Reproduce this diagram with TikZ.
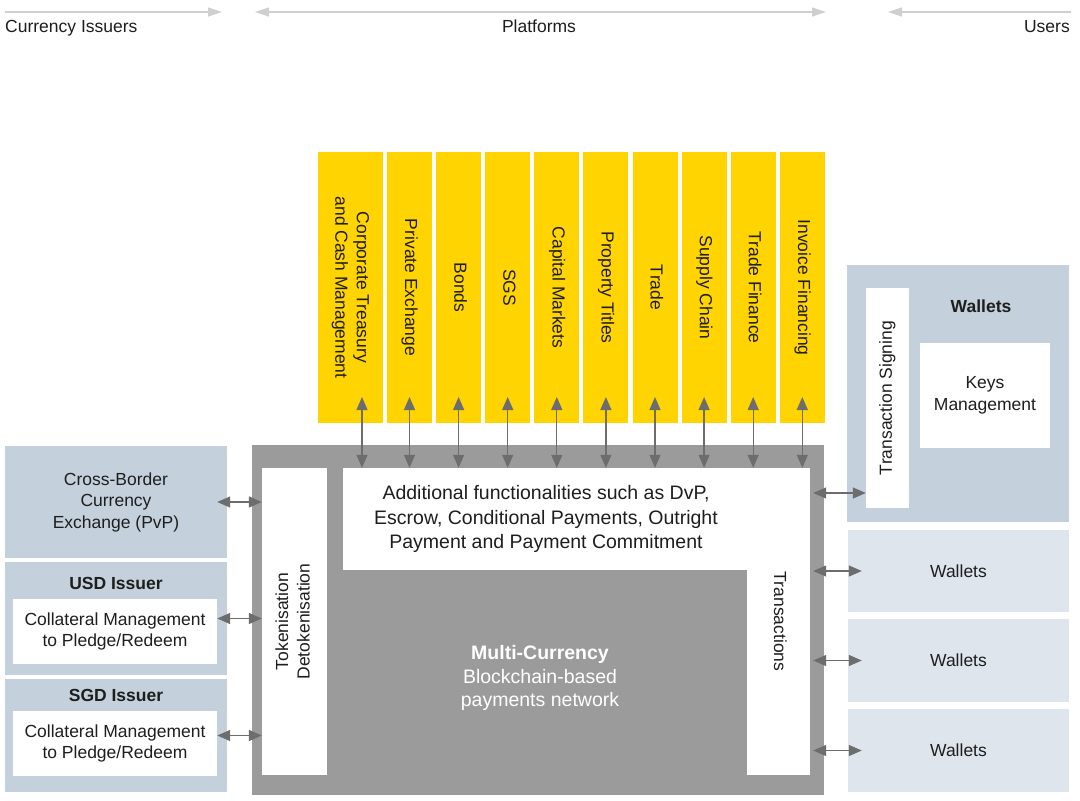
\documentclass[tikz,border=0pt]{standalone}
\usepackage{fontspec}
\setmainfont{Liberation Sans}
\usetikzlibrary{arrows.meta}

\definecolor{gold}{HTML}{FFD400}
\definecolor{steel}{HTML}{C4D1DC}
\definecolor{mist}{HTML}{DFE5EC}
\definecolor{netgray}{HTML}{9B9B9B}
\definecolor{linkgray}{HTML}{6D6D6D}
\definecolor{headgray}{HTML}{CFCFCF}
\definecolor{ink}{HTML}{1E1E1E}

\newcommand{\rotup}[1]{\rotatebox{90}{\begin{tabular}{@{}c@{}}#1\end{tabular}}}
\newcommand{\rotdown}[1]{\rotatebox{-90}{\begin{tabular}{@{}c@{}}#1\end{tabular}}}

\begin{document}
\begin{tikzpicture}[
    x=1pt, y=-1pt,
    font=\fontsize{17.5}{21.5}\selectfont,
    box/.style={rectangle, inner sep=0pt, align=center, text=ink},
    plat/.style={box, fill=gold, minimum width=45pt, minimum height=271pt},
    issuer/.style={box, fill=steel, minimum width=222pt, minimum height=113pt},
    whitebox/.style={box, fill=white, minimum width=204pt, minimum height=65pt},
    wallet/.style={box, fill=mist, minimum width=221pt, minimum height=82.5pt},
    dlink/.style={{Triangle[length=13pt,width=11pt]}-{Triangle[length=13pt,width=11pt]}, draw=linkgray, line width=1.3pt},
    topline/.style={draw=headgray, line width=1.2pt}
]
\useasboundingbox (0,0) rectangle (1080,801);
\fill[white] (0,0) rectangle (1080,801);

% Column headings
\node[box, anchor=base west] (hcur) at (5,32) {Currency Issuers};
\node[box, anchor=base] (hplat) at (539,32) {Platforms};
\node[box, anchor=base east] (husr) at (1070,32) {Users};
\coordinate (t1) at (5,12);
\coordinate (t2) at (222,12);
\coordinate (t3) at (255,12);
\coordinate (t4) at (826,12);
\coordinate (t5) at (888,12);
\coordinate (t6) at (1071,12);
\draw[topline, -{Triangle[length=14pt,width=9pt]}] (t1) -- (t2);
\draw[topline, {Triangle[length=14pt,width=9pt]}-{Triangle[length=14pt,width=9pt]}] (t3) -- (t4);
\draw[topline, {Triangle[length=14pt,width=9pt]}-] (t5) -- (t6);

% Platforms
\node[plat, minimum width=65pt] (p1) at (350.5,287.5) {\rotdown{Corporate Treasury\\and Cash Management}};
\foreach \i/\t in {2/Private Exchange, 3/Bonds, 4/SGS, 5/Capital Markets, 6/Property Titles,
                   7/Trade, 8/Supply Chain, 9/Trade Finance, 10/Invoice Financing} {
    \node[plat] (p\i) at ({409.5+(\i-2)*49.1},287.5) {\rotdown{\t}};
}

% Payments network
\node[box, fill=netgray, minimum width=572pt, minimum height=350pt] (net) at (538,620) {};
\node[box, fill=white, minimum width=65pt, minimum height=307pt] (tok) at (294.5,621.5) {\rotup{Tokenisation\\Detokenisation}};
\node[box, fill=white, minimum width=406pt, minimum height=102pt, font=\fontsize{19.5}{24.5}\selectfont] (fx) at (546,519)
    {Additional functionalities such as DvP,\\Escrow, Conditional Payments, Outright\\Payment and Payment Commitment};
\node[box, fill=white, minimum width=63pt, minimum height=307pt] (tx) at (778.5,621.5) {\rotdown{Transactions}};
\node[box, text=white, font=\fontsize{19.5}{23.5}\selectfont] (mc) at (540,678)
    {\textbf{Multi-Currency}\\Blockchain-based\\payments network};

% Currency issuers
\node[issuer, minimum height=112pt] (cbx) at (116,502) {Cross-Border\\Currency\\Exchange (PvP)};
\node[issuer] (usd) at (116,618.5) {};
\node[box] (usdt) at (116,583) {\textbf{USD Issuer}};
\node[whitebox] (usdc) at (115,631.5) {Collateral Management\\to Pledge/Redeem};
\node[issuer] (sgd) at (116,735.5) {};
\node[box] (sgdt) at (116,695) {\textbf{SGD Issuer}};
\node[whitebox] (sgdc) at (115,743.5) {Collateral Management\\to Pledge/Redeem};

% Users
\node[box, fill=steel, minimum width=222pt, minimum height=257pt] (wal) at (958,393.5) {};
\node[box] (walt) at (981,306) {\textbf{Wallets}};
\node[box, fill=white, minimum width=43pt, minimum height=220pt] (ts) at (887.5,398) {\rotup{Transaction Signing}};
\node[box, fill=white, minimum width=130pt, minimum height=105pt] (keys) at (985,395.5) {Keys\\Management};
\foreach \i/\y in {1/571, 2/660.5, 3/750.5} {
    \node[wallet] (w\i) at (958.5,\y) {Wallets};
}

% Connections
\coordinate (a1) at (362,397);
\foreach \i in {2,...,10} {
    \coordinate (a\i) at (p\i |- 0,397);
}
\foreach \i in {1,...,10} {
    \draw[dlink] (a\i) -- (a\i |- fx.north);
}
\foreach \n in {cbx,usd,sgd} {
    \draw[dlink] ([xshift=-10pt]\n.east) -- (\n.east -| tok.west);
}
\coordinate (tsa) at (net.east |- 0,493);
\draw[dlink] ([xshift=-11pt]tsa) -- (tsa -| ts.west);
\foreach \i in {1,2,3} {
    \draw[dlink] ([xshift=-11pt]net.east |- w\i.west) -- ([xshift=14pt]w\i.west);
}

\end{tikzpicture}
\end{document}
